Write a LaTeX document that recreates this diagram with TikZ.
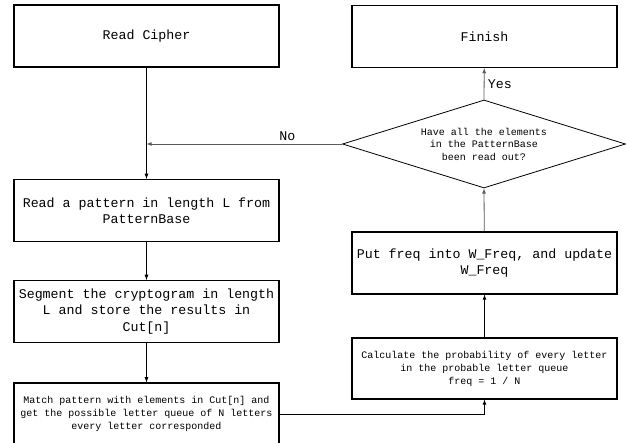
\documentclass[tikz,border=0pt]{standalone}
\usepackage{fontspec}
\setmainfont{Liberation Mono}
\usetikzlibrary{shapes.geometric}
\definecolor{flowgray}{RGB}{90,90,90}

\tikzset{
  stepbox/.style={draw,line width=1.1pt,minimum width=265pt,minimum height=62pt,
    inner sep=0pt,align=center},
  bigtext/.style={font=\fontsize{13.3}{16.5}\selectfont},
  smalltext/.style={font=\fontsize{10}{13}\selectfont},
  decide/.style={draw,diamond,aspect=3.2,line width=0.8pt,minimum width=283pt,
    minimum height=88pt,inner sep=0pt,align=center,
    font=\fontsize{10}{12.5}\selectfont},
  flow/.style={-latex,line width=0.8pt}
}

\begin{document}
\begin{tikzpicture}[x=1pt,y=-1pt]
            \useasboundingbox (0,0) rectangle (627,443);

            % Left column
            \node[stepbox,bigtext] (cipher) at (146.5,36) {Read Cipher};
            \node[stepbox,bigtext] (pattern) at (146.5,210.5) {Read a pattern in length L from\\PatternBase};
            \node[stepbox,bigtext] (segment) at (146.5,311.5) {Segment the cryptogram in length\\L and store the results in\\Cut[n]};
            \node[stepbox,smalltext] (match) at (146.5,414) {Match pattern with elements in Cut[n] and\\get the possible letter queue of N letters\\every letter corresponded};

            % Right column
            \node[stepbox,bigtext] (finish) at (484.5,36.5) {Finish};
            \node[decide] (check) at (484,144) {Have all the elements\\in the PatternBase\\been read out?};
            \node[stepbox,bigtext] (update) at (484.5,263) {Put freq into W\_Freq, and update\\W\_Freq};
            \node[stepbox,smalltext,minimum height=61pt] (calc) at (484.5,368.5) {Calculate the probability of every letter\\in the probable letter queue\\freq = 1 / N};

            % Connectors
            \coordinate (nojoin) at (cipher.south |- check.west);
            \draw[flow] (cipher) -- (pattern);
            \draw[flow,flowgray] (check.west) -- (nojoin)
              node[pos=0.28,above,bigtext,black] {No};
            \draw[flow] (pattern) -- (segment);
            \draw[flow] (segment) -- (match);
            \draw[flow] (match.east) -| (calc.south);
            \draw[flow] (calc) -- (update);
            \draw[flow,flowgray] (update) -- (check.south);
            \draw[flow,flowgray] (check.north) -- (finish)
              node[midway,right,bigtext,black] {Yes};

        \end{tikzpicture}
\end{document}
